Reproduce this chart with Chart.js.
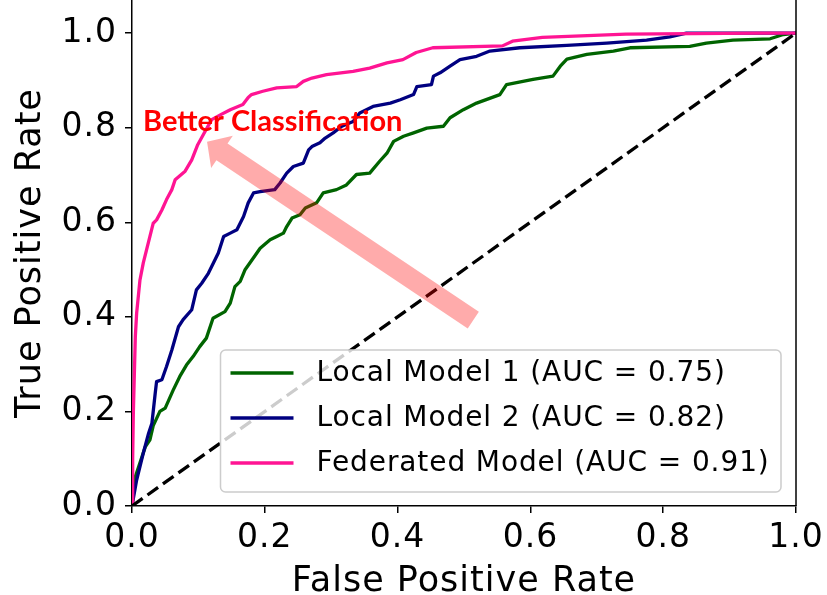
<!DOCTYPE html>
<html><head><meta charset="utf-8">
<script src="https://cdn.jsdelivr.net/npm/chart.js@4.4.1/dist/chart.umd.min.js"></script>
<style>html,body{margin:0;padding:0;background:#fff;}#wrap{width:827px;height:595px;}</style>
</head><body><div id="wrap"><canvas id="c" width="827" height="595"></canvas></div>
<script>
const xTicks=[0,0.2,0.4,0.6,0.8,1.0];
const yTicks=[0,0.2,0.4,0.6,0.8,1.0];
const xTitle='False Positive Rate';
const yTitle='True Positive Rate';
const seriesLabels=['Local Model 1 (AUC = 0.75)','Local Model 2 (AUC = 0.82)','Federated Model (AUC = 0.91)'];
const annotationText='Better Classification';

const lm1Fpr=[0,0.005,0.010,0.020,0.027,0.032,0.042,0.050,0.062,0.072,0.082,0.092,0.102,0.112,0.122,0.140,0.148,0.155,0.163,0.170,0.183,0.193,0.208,0.218,0.228,0.233,0.241,0.253,0.261,0.278,0.288,0.308,0.323,0.338,0.358,0.373,0.384,0.394,0.409,0.424,0.444,0.469,0.479,0.499,0.519,0.554,0.564,0.604,0.634,0.645,0.655,0.685,0.725,0.750,0.840,0.865,0.905,0.961,0.981,1];
const lm1Tpr=[0,0.062,0.083,0.125,0.140,0.170,0.200,0.207,0.245,0.274,0.298,0.316,0.337,0.355,0.397,0.411,0.429,0.464,0.475,0.499,0.525,0.545,0.563,0.570,0.577,0.591,0.609,0.616,0.630,0.641,0.662,0.669,0.679,0.701,0.704,0.729,0.746,0.771,0.782,0.789,0.799,0.803,0.821,0.838,0.852,0.870,0.891,0.902,0.909,0.930,0.945,0.955,0.962,0.969,0.972,0.979,0.985,0.988,0.997,1];

const lm2Fpr=[0,0.007,0.017,0.025,0.030,0.035,0.037,0.045,0.052,0.060,0.070,0.077,0.090,0.097,0.105,0.115,0.130,0.138,0.148,0.158,0.168,0.175,0.183,0.193,0.215,0.223,0.233,0.243,0.258,0.266,0.271,0.283,0.291,0.303,0.316,0.333,0.343,0.363,0.389,0.404,0.424,0.429,0.451,0.454,0.464,0.479,0.494,0.519,0.539,0.584,0.655,0.715,0.775,0.810,0.835,1];
const lm2Tpr=[0,0.055,0.112,0.154,0.175,0.239,0.263,0.267,0.295,0.330,0.379,0.394,0.415,0.457,0.471,0.492,0.535,0.570,0.577,0.584,0.612,0.641,0.662,0.665,0.669,0.683,0.704,0.718,0.725,0.753,0.760,0.768,0.778,0.789,0.803,0.813,0.831,0.845,0.852,0.859,0.870,0.887,0.891,0.909,0.916,0.930,0.944,0.951,0.962,0.969,0.974,0.979,0.985,0.992,1.0,1];

const fedFpr=[0,0.001,0.002,0.005,0.007,0.010,0.012,0.017,0.022,0.027,0.032,0.037,0.045,0.052,0.060,0.065,0.080,0.090,0.099,0.110,0.120,0.133,0.148,0.167,0.175,0.180,0.197,0.218,0.248,0.258,0.271,0.293,0.333,0.358,0.384,0.408,0.428,0.453,0.558,0.573,0.618,0.744,0.944,1];
const fedTpr=[0,0.100,0.196,0.358,0.408,0.450,0.478,0.514,0.542,0.570,0.598,0.605,0.626,0.648,0.669,0.690,0.708,0.732,0.764,0.792,0.817,0.827,0.838,0.849,0.864,0.870,0.877,0.884,0.887,0.898,0.905,0.912,0.919,0.926,0.937,0.944,0.959,0.969,0.973,0.983,0.991,0.998,1.0,1];

const chanceFpr=[0,1];
const chanceTpr=[0,1];

const colors=['#006400','#000080','#ff1493'];
const pts=(xs,ys)=>xs.map((v,i)=>({x:v,y:ys[i]}));

const spacing={
  id:'spacing',
  beforeDraw(chart){ chart.ctx.letterSpacing='1px'; }
};

const overlay={
  id:'overlay',
  afterDatasetsDraw(chart){
    const {ctx,chartArea:a,scales}=chart;
    const X=v=>scales.x.getPixelForValue(v), Y=v=>scales.y.getPixelForValue(v);
    ctx.save();
    ctx.strokeStyle='#000';ctx.lineWidth=1.5;
    ctx.beginPath();ctx.moveTo(a.right,a.top);ctx.lineTo(a.right,a.bottom);ctx.stroke();
    const tail=[X(0.514),Y(0.393)], tip=[X(0.113),Y(0.770)];
    const dx=tip[0]-tail[0], dy=tip[1]-tail[1], L=Math.hypot(dx,dy);
    const ux=dx/L, uy=dy/L, nx=-uy, ny=ux;
    const hw=10, hh=19.5, hl=18;
    const bx=tip[0]-ux*hl, by=tip[1]-uy*hl;
    ctx.fillStyle='rgba(255,0,0,0.33)';
    ctx.beginPath();
    ctx.moveTo(tail[0]+nx*hw,tail[1]+ny*hw);
    ctx.lineTo(bx+nx*hw,by+ny*hw);
    ctx.lineTo(bx+nx*hh,by+ny*hh);
    ctx.lineTo(tip[0],tip[1]);
    ctx.lineTo(bx-nx*hh,by-ny*hh);
    ctx.lineTo(bx-nx*hw,by-ny*hw);
    ctx.lineTo(tail[0]-nx*hw,tail[1]-ny*hw);
    ctx.closePath();ctx.fill();
    const lx0=a.right-575.5, lx1=a.right-15, ly0=a.bottom-156, ly1=a.bottom-14;
    const r=5;
    ctx.beginPath();
    ctx.moveTo(lx0+r,ly0);ctx.lineTo(lx1-r,ly0);ctx.arcTo(lx1,ly0,lx1,ly0+r,r);
    ctx.lineTo(lx1,ly1-r);ctx.arcTo(lx1,ly1,lx1-r,ly1,r);
    ctx.lineTo(lx0+r,ly1);ctx.arcTo(lx0,ly1,lx0,ly1-r,r);
    ctx.lineTo(lx0,ly0+r);ctx.arcTo(lx0,ly0,lx0+r,ly0,r);ctx.closePath();
    ctx.fillStyle='rgba(255,255,255,0.8)';ctx.fill();
    ctx.strokeStyle='#cccccc';ctx.lineWidth=1.5;ctx.stroke();
    ctx.font='28px "DejaVu Sans"';ctx.textBaseline='middle';ctx.textAlign='left';
    ctx.letterSpacing='0.9px';
    seriesLabels.forEach((lab,i)=>{
      const ry=ly0+23+45*i;
      ctx.strokeStyle=colors[i];ctx.lineWidth=3.3;
      ctx.beginPath();ctx.moveTo(lx0+10,ry);ctx.lineTo(lx0+73,ry);ctx.stroke();
      ctx.fillStyle='#000';ctx.fillText(lab,lx0+96,ry+1);
    });
    ctx.letterSpacing='0px';
    let fs=26;
    ctx.font='bold '+fs+'px Lato';
    const w=ctx.measureText(annotationText).width;
    fs=fs*259/w;
    ctx.font='bold '+fs.toFixed(1)+'px Lato';
    ctx.fillStyle='#ff0000';ctx.textBaseline='alphabetic';
    ctx.fillText(annotationText,X(0.0166),Y(0.792));
    ctx.restore();
  }
};

new Chart(document.getElementById('c'),{
  type:'line',
  data:{datasets:[
    {label:'chance',data:pts(chanceFpr,chanceTpr),borderColor:'#000',borderWidth:3.3,borderDash:[13,6],pointRadius:0,order:0},
    {label:seriesLabels[2],data:pts(fedFpr,fedTpr),borderColor:colors[2],borderWidth:3.3,pointRadius:0,order:1},
    {label:seriesLabels[1],data:pts(lm2Fpr,lm2Tpr),borderColor:colors[1],borderWidth:3.3,pointRadius:0,order:2},
    {label:seriesLabels[0],data:pts(lm1Fpr,lm1Tpr),borderColor:colors[0],borderWidth:3.3,pointRadius:0,order:3}
  ]},
  options:{
    responsive:false,animation:false,devicePixelRatio:1,
    layout:{padding:{left:0,right:31,top:0,bottom:0}},
    plugins:{legend:{display:false},tooltip:{enabled:false}},
    elements:{line:{tension:0,fill:false,borderCapStyle:'butt',borderJoinStyle:'round'}},
    scales:{
      x:{type:'linear',min:0,max:1,
        afterBuildTicks:s=>{s.ticks=xTicks.map(v=>({value:v}));},
        afterFit:s=>{s.height=89;s.paddingLeft=0;s.paddingRight=0;},
        ticks:{font:{family:'DejaVu Sans',size:33},color:'#000',padding:6,maxRotation:0,autoSkip:false,callback:v=>v.toFixed(1)},
        grid:{display:true,drawOnChartArea:false,drawTicks:true,tickLength:7,color:'#000',lineWidth:1.5},
        border:{display:true,color:'#000',width:1.5},
        title:{display:true,text:xTitle,color:'#000',font:{family:'DejaVu Sans',size:35,lineHeight:0.6},padding:{top:0,bottom:3}}
      },
      y:{type:'linear',min:0,max:1.07,
        afterBuildTicks:s=>{s.ticks=yTicks.map(v=>({value:v}));},
        afterFit:s=>{s.width=132;s.paddingTop=0;s.paddingBottom=0;},
        ticks:{font:{family:'DejaVu Sans',size:33},color:'#000',padding:8,autoSkip:false,callback:v=>v.toFixed(1)},
        grid:{display:true,drawOnChartArea:false,drawTicks:true,tickLength:7,color:'#000',lineWidth:1.5},
        border:{display:true,color:'#000',width:1.5},
        title:{display:true,text:yTitle,color:'#000',font:{family:'DejaVu Sans',size:35,lineHeight:1.2},padding:{top:10,bottom:0}}
      }
    }
  },
  plugins:[spacing,overlay]
});
</script></body></html>
